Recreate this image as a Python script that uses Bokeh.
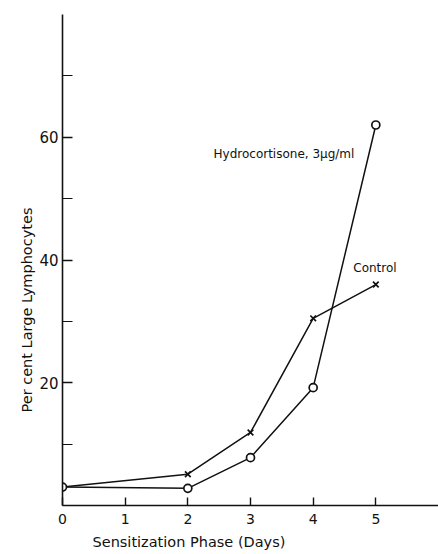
from bokeh.plotting import figure
from bokeh.models import FixedTicker, Label, Range1d, Title
from bokeh.embed import file_html
from bokeh.resources import INLINE

# Data
days = [0, 2, 3, 4, 5]
hydrocortisone = [3.0, 2.8, 7.8, 19.2, 62.0]
control = [3.0, 5.1, 11.9, 30.5, 36.0]
x_ticks = [0, 1, 2, 3, 4, 5]
y_major_ticks = [20, 40, 60]
y_minor_ticks = [10, 30, 50, 70]

FONT = "DejaVu Sans"
INK = "#111111"

p = figure(
    width=438, height=554,
    x_range=Range1d(0, 6.0), y_range=Range1d(0, 80),
    output_backend="svg", toolbar_location=None,
    min_border_left=62, min_border_right=0, min_border_top=14, min_border_bottom=49,
)
p.frame_width = 376
p.frame_height = 491
p.outline_line_color = None
p.xgrid.visible = False
p.ygrid.visible = False
p.background_fill_color = "white"
p.border_fill_color = "white"

# Lines
p.line(days, control, line_color=INK, line_width=1.5)
p.line(days, hydrocortisone, line_color=INK, line_width=1.5)

# Markers
p.scatter(days[1:], control[1:], marker="x", size=8, line_color=INK, line_width=1.7)
p.scatter(days, hydrocortisone, marker="circle", size=8, fill_color="white",
          line_color=INK, line_width=1.7)

# Axes
xa = p.xaxis[0]
xa.ticker = FixedTicker(ticks=x_ticks)
xa.major_tick_in = 8
xa.major_tick_out = 0
xa.minor_tick_in = 0
xa.minor_tick_out = 0
xa.axis_line_width = 1.6
xa.axis_line_color = INK
xa.major_tick_line_color = INK
xa.major_tick_line_width = 1.4
xa.major_label_text_font = FONT
xa.major_label_text_font_size = "14px"
xa.major_label_text_color = INK
xa.major_label_standoff = 8

ya = p.yaxis[0]
ya.ticker = FixedTicker(ticks=y_major_ticks, minor_ticks=y_minor_ticks)
ya.major_tick_in = 10
ya.major_tick_out = 0
ya.minor_tick_in = 10
ya.minor_tick_out = 0
ya.axis_line_width = 1.6
ya.axis_line_color = INK
ya.major_tick_line_color = INK
ya.minor_tick_line_color = INK
ya.major_tick_line_width = 1.4
ya.minor_tick_line_width = 1.2
ya.major_label_text_font = FONT
ya.major_label_text_font_size = "15px"
ya.major_label_text_color = INK
ya.major_label_standoff = 4

# Axis titles, placed off-centre as in the reference
p.add_layout(Title(text="Per cent Large Lymphocytes", align="left", offset=93,
                   text_font=FONT, text_font_size="14.5px", text_font_style="normal",
                   text_color=INK, standoff=4), "left")
p.add_layout(Title(text="Sensitization Phase (Days)", align="left", offset=30,
                   text_font=FONT, text_font_size="14.5px", text_font_style="normal",
                   text_color=INK, standoff=11), "below")

# Series annotations
p.add_layout(Label(x=2.41, y=57.2, text="Hydrocortisone, 3\u00b5g/ml",
                   text_align="left", text_baseline="middle",
                   text_font=FONT, text_font_size="12px", text_color=INK))
p.add_layout(Label(x=4.64, y=38.7, text="Control",
                   text_align="left", text_baseline="middle",
                   text_font=FONT, text_font_size="12px", text_color=INK))

open("out.html", "w").write(file_html(p, INLINE))
